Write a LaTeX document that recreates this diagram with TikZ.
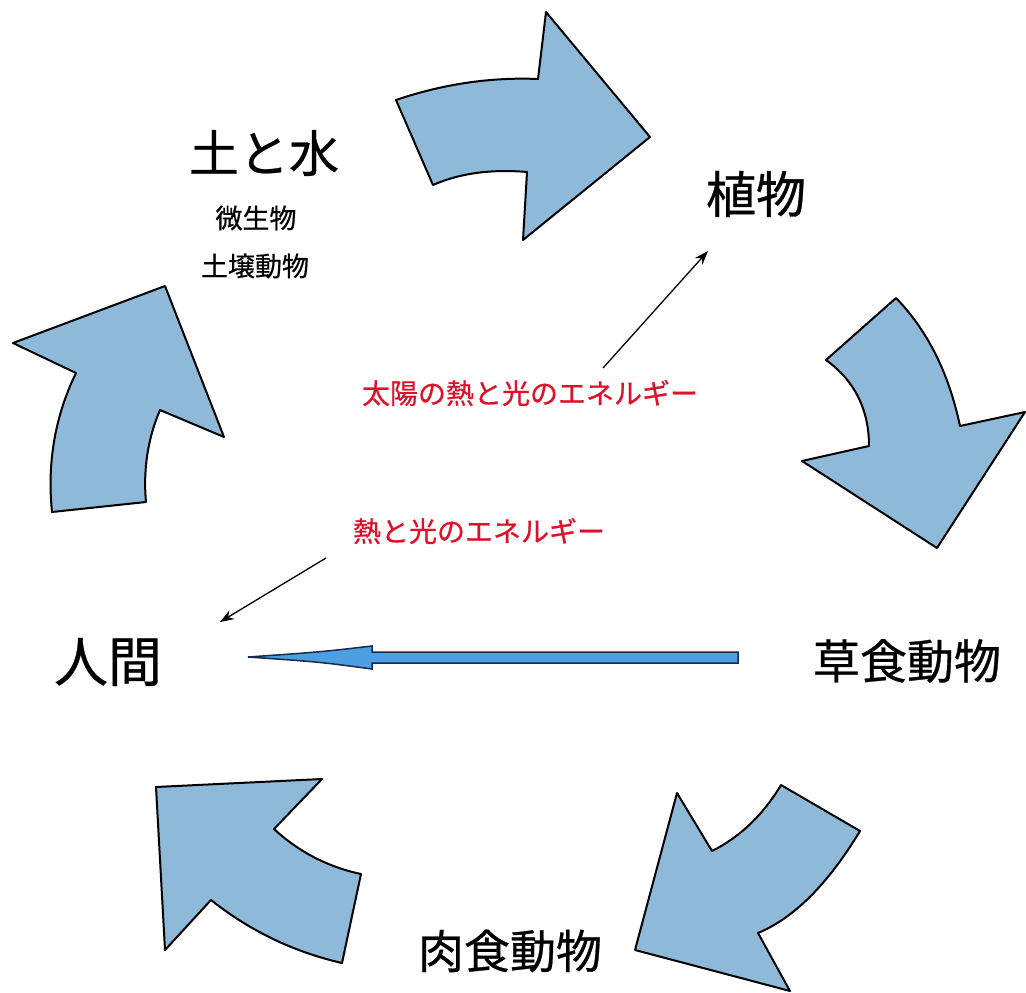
\documentclass[tikz,border=0pt]{standalone}
\usepackage{fontspec}
\newfontfamily\jp[FakeBold=0.6]{Noto Sans CJK JP}
\usetikzlibrary{arrows.meta}
\definecolor{bigblue}{HTML}{8FB9D8}
\definecolor{shaftblue}{HTML}{4C9FE2}
\definecolor{shaftedge}{HTML}{1A2A4A}
\definecolor{energyred}{HTML}{E0102A}
\tikzset{
  bigarrow/.style={fill=bigblue, draw=black, line width=2pt, line join=round},
  label/.style={font=\jp, text=black, inner sep=0pt},
  energy/.style={font=\jp\fontsize{28}{32}\selectfont, text=energyred, inner sep=0pt},
  thin/.style={draw=black, line width=1.3pt, -{Stealth[length=14pt,width=10pt]}}
}
\begin{document}
\begin{tikzpicture}[x=1pt,y=-1pt]
\useasboundingbox (0,0) rectangle (1026,993);
\fill[white] (0,0) rectangle (1026,993);

% big curved arrows
\draw[bigarrow] (396,100) .. controls (443,84) and (491,77) .. (538,79) -- (546,12) -- (650,137) -- (523,240) -- (527,172)
  .. controls (492,169) and (460,173) .. (433,185) -- cycle;
\draw[bigarrow] (826,360) .. controls (855,381) and (869,410) .. (869,446) -- (802,461) -- (937,548) -- (1025,412) -- (960,426)
  .. controls (949,374) and (928,331) .. (896,298) -- cycle;
\draw[bigarrow] (781,785) .. controls (763,815) and (740,837) .. (712,851) -- (677,793) -- (635,950) -- (790,991) -- (758,933)
  .. controls (794,918) and (828,884) .. (860,831) -- cycle;
\draw[bigarrow] (156,787) -- (322,779) -- (274,829) .. controls (299,852) and (328,867) .. (361,874) -- (342,963)
  .. controls (294,952) and (250,931) .. (211,900) -- (165,950) -- cycle;
\draw[bigarrow] (165,286) -- (224,437) -- (160,410) .. controls (148,438) and (143,469) .. (146,502) -- (52,512)
  .. controls (47,463) and (55,416) .. (76,373) -- (13,343) -- cycle;

% labels
\node[label, font=\jp\fontsize{50}{56}\selectfont] (soil) at (264,153) {土と水};
\node[label, font=\jp\fontsize{27}{32}\selectfont] (micro) at (256,218) {微生物};
\node[label, font=\jp\fontsize{27}{32}\selectfont] (soilani) at (255,266) {土壌動物};
\node[label, font=\jp\fontsize{50}{56}\selectfont] (plant) at (756,194) {植物};
\node[label, font=\jp\fontsize{54}{60}\selectfont] (human) at (108,662) {人間};
\node[label, font=\jp\fontsize{47}{52}\selectfont] (herb) at (907,661) {草食動物};
\node[label, font=\jp\fontsize{46}{52}\selectfont] (carn) at (510,951) {肉食動物};
\node[energy] (sun) at (530,393) {太陽の熱と光のエネルギー};
\node[energy] (heat) at (479,531) {熱と光のエネルギー};

% thin arrows
\coordinate (sunstart) at (603,368);
\coordinate (plantend) at (708,251);
\coordinate (heatstart) at (326,558);
\coordinate (humanend) at (220,622);
\draw[thin] (sunstart) -- (plantend);
\draw[thin] (heatstart) -- (humanend);

% straight blue arrow from herbivores to humans
\draw[fill=shaftblue, draw=shaftedge, line width=1.5pt, line join=miter]
  (738,652) -- (372,652) -- (372,646) .. controls (320,652) .. (248,657)
  .. controls (320,662) .. (372,669) -- (372,663) -- (738,663) -- cycle;
\end{tikzpicture}
\end{document}
